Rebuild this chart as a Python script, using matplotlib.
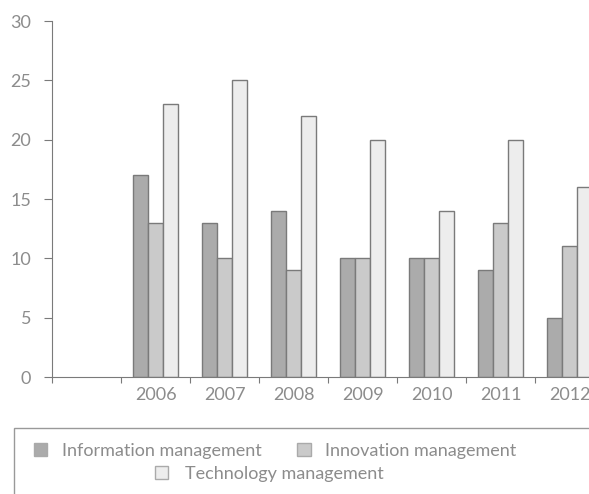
import matplotlib.pyplot as plt
from matplotlib.patches import Rectangle, Patch
import numpy as np

years = ['2006', '2007', '2008', '2009', '2010', '2011', '2012']
info_mgmt = [17, 13, 14, 10, 10, 9, 5]
innov_mgmt = [13, 10, 9, 10, 10, 13, 11]
tech_mgmt = [23, 25, 22, 20, 14, 20, 16]

series = ['Information management', 'Innovation management', 'Technology management']
colors = ['#ababab', '#cacaca', '#ededed']
edge = '#7a7a7a'
txt = '#8c8c8c'

plt.rcParams['font.family'] = ['Lato', 'DejaVu Sans']

fig = plt.figure(figsize=(5.89, 4.94), dpi=100)
ax = fig.add_axes([52 / 589, 117 / 494, 1 - 52 / 589, (473 - 117) / 494])

# first category slot is left empty, like the original
x = np.arange(1, len(years) + 1)
w = 0.22
for i, (vals, c) in enumerate(zip([info_mgmt, innov_mgmt, tech_mgmt], colors)):
    ax.bar(x + (i - 1) * w, vals, w, color=c, edgecolor=edge, linewidth=1)

ax.set_xlim(-0.5, 7.28)
ax.set_ylim(0, 30)
ax.set_yticks([0, 5, 10, 15, 20, 25, 30])
ax.set_xticks(np.arange(-0.5, 7.5, 1))
ax.set_xticklabels([])
ax.set_xticks(x, minor=True)
ax.set_xticklabels(years, minor=True)
ax.tick_params(axis='x', which='minor', length=0, pad=7, labelsize=13, labelcolor=txt)
ax.tick_params(axis='x', which='major', length=4, color=edge)
ax.tick_params(axis='y', length=6, color=edge, labelsize=13, labelcolor=txt, pad=9)

for s in ['top', 'right']:
    ax.spines[s].set_visible(False)
for s in ['left', 'bottom']:
    ax.spines[s].set_color(edge)

# legend box
fig.patches.append(Rectangle((14 / 589, -0.1), 1, (494 - 428) / 494 + 0.1,
                             transform=fig.transFigure, fill=False,
                             edgecolor='#999999', linewidth=1))
handles = [Patch(facecolor=c, edgecolor='#aaaaaa') for c in colors]
leg1 = fig.legend(handles[:2], series[:2], ncol=2, loc='center',
                  bbox_to_anchor=(0.467, 1 - 451 / 494), frameon=False,
                  fontsize=13, labelcolor=txt, handlelength=0.75, handleheight=0.75,
                  handletextpad=0.8, columnspacing=2.0)
leg2 = fig.legend(handles[2:], series[2:], loc='center',
                  bbox_to_anchor=(0.457, 1 - 474 / 494), frameon=False,
                  fontsize=13, labelcolor=txt, handlelength=0.75, handleheight=0.75,
                  handletextpad=0.9)

fig.savefig('out.png', dpi=100)
